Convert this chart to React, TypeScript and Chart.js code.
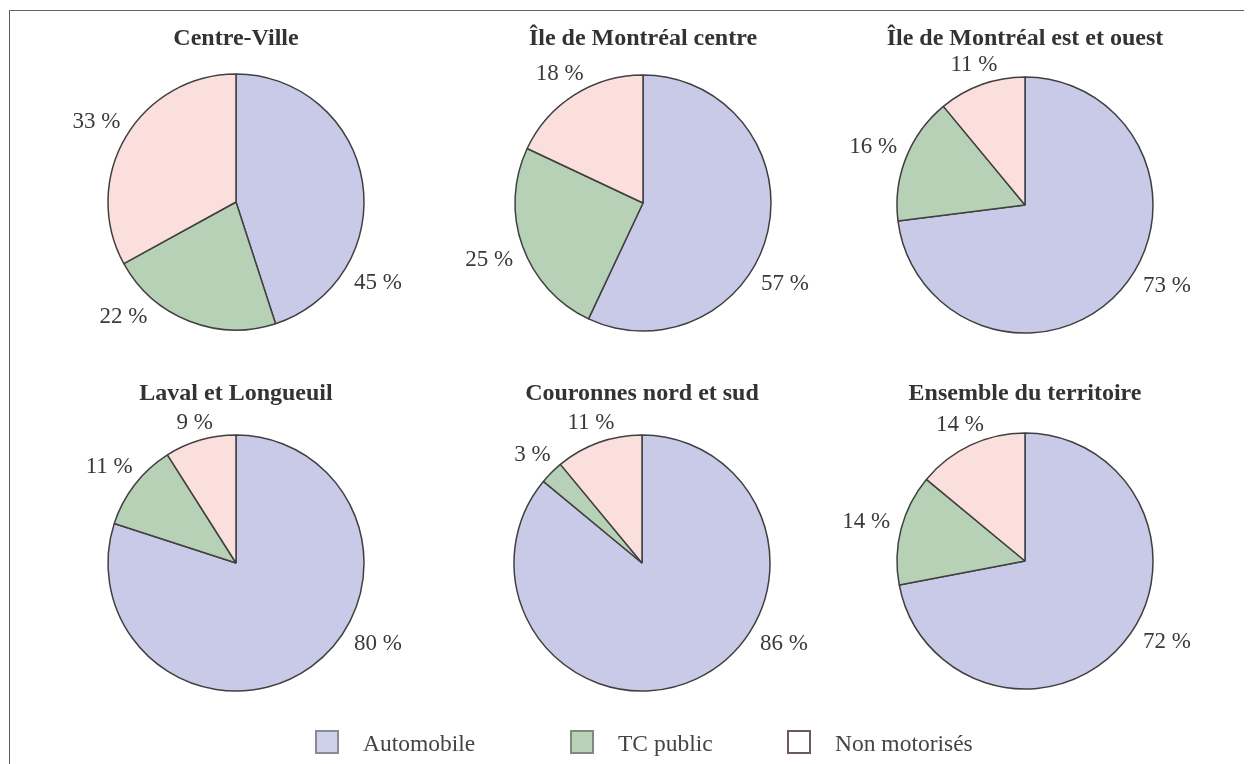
import React, { useEffect, useRef } from 'react';
import { Chart, registerables } from 'chart.js';

Chart.register(...registerables);

// ---- Data ----
const modes = ['Automobile', 'TC public', 'Non motorisés'];
const regions = [
  'Centre-Ville',
  'Île de Montréal centre',
  'Île de Montréal est et ouest',
  'Laval et Longueuil',
  'Couronnes nord et sud',
  'Ensemble du territoire',
];
const automobile = [45, 57, 73, 80, 86, 72];
const tcPublic = [22, 25, 16, 11, 3, 14];
const nonMotorises = [33, 18, 11, 9, 11, 14];

// ---- Styling / layout ----
const sliceColors = ['#c9cae8', '#b7d1b7', '#fbdfdc'];
const legendFill = ['#cfd0ea', '#b9d2b9', '#ffffff'];
const legendBorder = ['#8a8a96', '#7d8a7d', '#6a5a5a'];
const pieCenterX = [236, 643, 1025, 236, 642, 1025];
const pieCenterY = [202, 203, 205, 563, 563, 561];
const titleBaselineY = [45, 400];
const legendBoxLeft = [315, 570, 787];
const CW = 400;
const CH = 400;
const SERIF = '"Liberation Serif", "Times New Roman", Times, serif';
const DEG = Math.PI / 180;

function makePlugin(title: string, titleY: number) {
  return {
    id: 'pieLabels',
    afterDraw(chart: any) {
      const ctx = chart.ctx as CanvasRenderingContext2D;
      const meta = chart.getDatasetMeta(0);
      const ds = chart.data.datasets[0];
      ctx.save();
      ctx.font = '23px ' + SERIF;
      ctx.fillStyle = '#3a3a3a';
      ctx.textAlign = 'center';
      ctx.textBaseline = 'middle';
      meta.data.forEach((arc: any, i: number) => {
        const p = arc.getProps(['x', 'y', 'startAngle', 'endAngle', 'outerRadius'], true);
        let a: number;
        if (i === 0) {
          // main slice label sits at lower right
          a = 29 * DEG;
        } else {
          a = (p.startAngle + p.endAngle) / 2;
          // keep the small-slice labels out of the bottom area
          if (a < 135 * DEG) a = 135 * DEG;
        }
        const text = ds.data[i] + ' %';
        const w = ctx.measureText(text).width;
        const d = p.outerRadius + 12 + (Math.abs(Math.cos(a)) * w) / 2 + Math.abs(Math.sin(a)) * 3;
        ctx.fillText(text, p.x + Math.cos(a) * d, p.y + Math.sin(a) * d + 2);
      });
      const c = meta.data[0].getProps(['x'], true);
      ctx.font = 'bold 24px ' + SERIF;
      ctx.fillStyle = '#333333';
      ctx.textBaseline = 'alphabetic';
      ctx.fillText(title, c.x, titleY);
      ctx.restore();
    },
  };
}

function PieChart({ index }: { index: number }) {
  const ref = useRef<HTMLCanvasElement>(null);
  const cx = pieCenterX[index];
  const cy = pieCenterY[index];
  const top = cy - CH / 2;
  const titleY = titleBaselineY[Math.floor(index / 3)] - top;
  useEffect(() => {
    if (!ref.current) return;
    const chart = new Chart(ref.current, {
      type: 'pie',
      data: {
        labels: modes,
        datasets: [
          {
            data: [automobile[index], tcPublic[index], nonMotorises[index]],
            backgroundColor: sliceColors,
            borderColor: '#404040',
            borderWidth: 1.5,
          },
        ],
      },
      options: {
        responsive: false,
        animation: false,
        events: [],
        radius: 128,
        layout: { padding: 0 },
        plugins: {
          legend: { display: false },
          tooltip: { enabled: false },
          title: { display: false },
        },
      } as any,
      plugins: [makePlugin(regions[index], titleY) as any],
    });
    return () => chart.destroy();
  }, [index, titleY]);
  return (
    <canvas
      ref={ref}
      width={CW}
      height={CH}
      style={{ position: 'absolute', left: cx - CW / 2, top, width: CW, height: CH }}
    />
  );
}

export default function App() {
  return (
    <div style={{ position: 'absolute', left: 0, top: 0, width: 1248, height: 764, background: '#ffffff', overflow: 'hidden' }}>
      <div
        style={{
          position: 'absolute',
          left: 9,
          top: 10,
          width: 1234,
          height: 760,
          borderTop: '1.5px solid #5c6470',
          borderLeft: '1.5px solid #5c5c5c',
        }}
      />
      {regions.map((_, i) => (
        <PieChart key={i} index={i} />
      ))}
      {modes.map((m, i) => (
        <React.Fragment key={m}>
          <div
            style={{
              position: 'absolute',
              left: legendBoxLeft[i],
              top: 730,
              width: 20,
              height: 20,
              background: legendFill[i],
              border: '2px solid ' + legendBorder[i],
            }}
          />
          <div
            style={{
              position: 'absolute',
              left: legendBoxLeft[i] + 48,
              top: 731,
              fontFamily: SERIF,
              fontSize: 23.5,
              lineHeight: '24px',
              color: '#444444',
              whiteSpace: 'nowrap',
            }}
          >
            {m}
          </div>
        </React.Fragment>
      ))}
    </div>
  );
}
